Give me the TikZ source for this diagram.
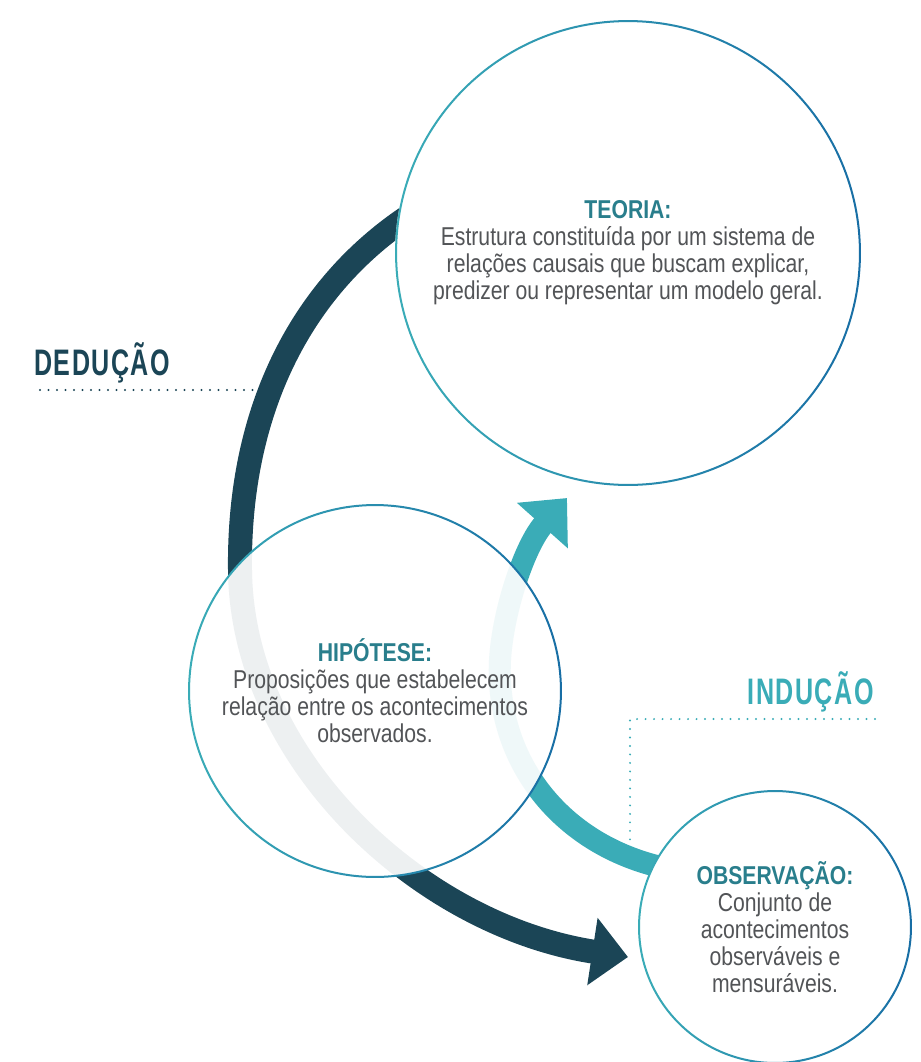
\documentclass[tikz,border=0pt]{standalone}
\usepackage{fontspec}
\setmainfont{Liberation Sans}[FakeStretch=0.82]
\newfontfamily\sidefont{Liberation Sans}[FakeStretch=0.68, LetterSpace=4]
\usepackage{tikz}
\definecolor{deepnavy}{RGB}{27,69,86}
\definecolor{lightteal}{RGB}{58,172,183}
\definecolor{titleteal}{RGB}{41,126,140}
\definecolor{ringblue}{RGB}{24,110,165}
\definecolor{bodygray}{RGB}{82,84,87}
\usetikzlibrary{arrows.meta}

\begin{document}
\begin{tikzpicture}[x=0.02cm,y=-0.02cm,
    bubble/.style={circle, fill=white, inner sep=0pt, align=center, text=bodygray,
        font=\fontsize{14.7}{15.4}\selectfont},
    ring/.style={left color=lightteal, right color=ringblue, even odd rule},
    dotline/.style={line width=1.2pt, line cap=round, dash pattern=on 0pt off 0.17cm},
    sidelabel/.style={font=\sidefont\bfseries\fontsize{21}{21}\selectfont, inner sep=0pt}
]
\useasboundingbox (0,0) rectangle (920,1062);

% arrows behind the circles
\draw[deepnavy, line width=0.48cm, -{Triangle[length=0.72cm, width=1.32cm]}]
    (430,203) .. controls (310,272) and (238,400) .. (240,570)
    .. controls (242,760) and (420,925) .. (628,957);
\draw[lightteal, line width=0.44cm, -{Triangle[length=0.74cm, width=1.32cm]}]
    (665,868) .. controls (560,845) and (495,760) .. (500,660)
    .. controls (503,610) and (525,545) .. (567,498);

% circles
\node[bubble, minimum size=9.32cm] (teoria) at (628,253)
    {\textcolor{titleteal}{\textbf{TEORIA:}}\\
     Estrutura constituída por um sistema de\\
     relações causais que buscam explicar,\\
     predizer ou representar um modelo geral.};
\shade[ring] (teoria.center) circle[radius=4.66cm] (teoria.center) circle[radius=4.62cm];

\node[bubble, minimum size=7.44cm, fill opacity=0.92, text opacity=1] (hipotese) at (375,691)
    {\textcolor{titleteal}{\textbf{HIPÓTESE:}}\\
     Proposições que estabelecem\\
     relação entre os acontecimentos\\
     observados.};
\shade[ring] (hipotese.center) circle[radius=3.74cm] (hipotese.center) circle[radius=3.70cm];

\node[bubble, minimum size=5.44cm] (observacao) at (775,927)
    {\textcolor{titleteal}{\textbf{OBSERVAÇÃO:}}\\
     Conjunto de\\
     acontecimentos\\
     observáveis e\\
     mensuráveis.};
\shade[ring] (observacao.center) circle[radius=2.74cm] (observacao.center) circle[radius=2.70cm];

% side labels
\node[sidelabel, text=deepnavy, anchor=west] (deducao) at (34,363) {DEDUÇÃO};
\coordinate (dedleft) at (40,390);
\coordinate (dedright) at (255,390);
\draw[deepnavy, dotline] (dedleft) -- (dedright);

\node[sidelabel, text=lightteal, anchor=east] (inducao) at (874,692) {INDUÇÃO};
\coordinate (indright) at (875,719);
\coordinate (indcorner) at (630,719);
\coordinate (indfoot) at (630,840);
\draw[lightteal, dotline] (indright) -- (indcorner) -- (indfoot);
\end{tikzpicture}
\end{document}
